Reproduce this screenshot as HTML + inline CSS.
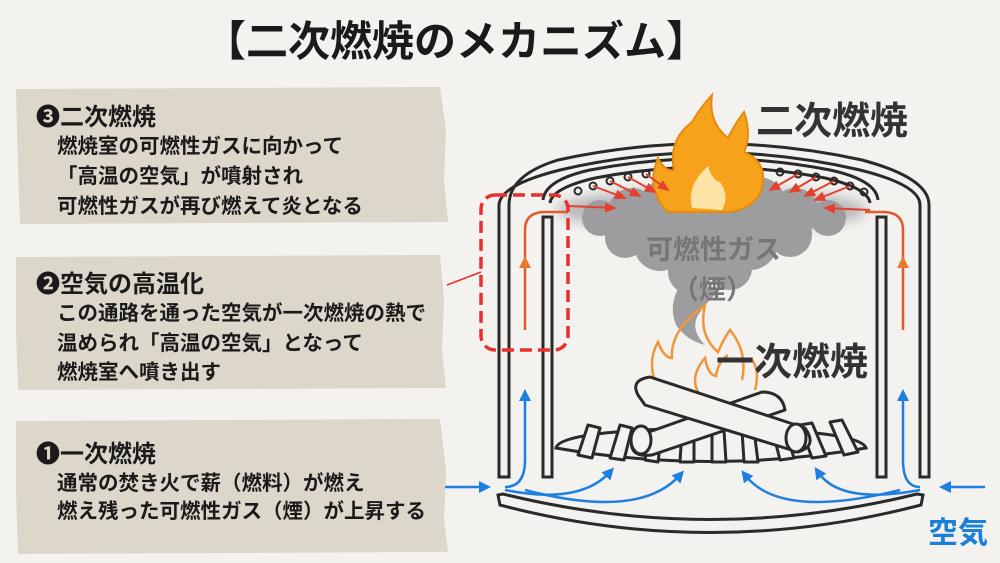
<!DOCTYPE html>
<html><head><meta charset="utf-8"><style>
html,body{margin:0;padding:0;}
body{width:1000px;height:563px;background:#f3f2ef;position:relative;overflow:hidden;font-family:"Liberation Sans","Noto Sans CJK JP",sans-serif;}
.t{position:absolute;white-space:nowrap;color:#1a1a1a;font-weight:bold;}
</style></head><body>
<svg width="1000" height="563" style="position:absolute;left:0;top:0" xmlns="http://www.w3.org/2000/svg">
<defs>
<linearGradient id="gL" x1="0" y1="1" x2="0" y2="0">
<stop offset="0" stop-color="#1e7fe0"/><stop offset="0.35" stop-color="#1e7fe0"/><stop offset="0.6" stop-color="#e87a2a"/><stop offset="1" stop-color="#e0502a"/></linearGradient>
<marker id="ar" markerWidth="12" markerHeight="10" refX="10" refY="5" orient="auto" markerUnits="userSpaceOnUse"><path d="M0,0 L12,5 L0,10 Z" fill="#e5402f"/></marker>
<marker id="ao" markerWidth="12" markerHeight="12" refX="6" refY="6" orient="auto" markerUnits="userSpaceOnUse"><path d="M0,0 L12,6 L0,12 Z" fill="#e87a2a"/></marker>
<marker id="abb" markerWidth="12" markerHeight="12" refX="6" refY="6" orient="auto" markerUnits="userSpaceOnUse"><path d="M0,0 L12,6 L0,12 Z" fill="#1e7fe0"/></marker>
<filter id="blur"><feGaussianBlur stdDeviation="6"/></filter>
</defs>
<path d="M16,89 L440,87 L446,130 L444,180 L448,222 L20,224 L18,170 Z" fill="#dcd6cb"/>
<path d="M16,257 L440,255 L444,300 L442,350 L446,388 L18,390 L16,330 Z" fill="#dcd6cb"/>
<path d="M16,421 L440,419 L446,470 L444,520 L448,552 L18,554 L16,490 Z" fill="#dcd6cb"/>
<ellipse cx="712" cy="210" rx="155" ry="22" fill="#b8b8ba" filter="url(#blur)"/>
<g fill="#9d9d9f">
<circle cx="600" cy="218" r="18"/><circle cx="632" cy="212" r="24"/><circle cx="670" cy="205" r="28"/><circle cx="715" cy="200" r="28"/><circle cx="758" cy="205" r="28"/><circle cx="795" cy="212" r="24"/><circle cx="828" cy="218" r="18"/>
<circle cx="625" cy="238" r="20"/><circle cx="660" cy="245" r="26"/><circle cx="705" cy="242" r="30"/><circle cx="750" cy="242" r="28"/><circle cx="790" cy="235" r="22"/>
<circle cx="690" cy="272" r="22"/><circle cx="730" cy="268" r="22"/>
<path d="M680,285 Q668,305 676,325 Q686,340 705,345 Q690,330 698,315 Q708,300 722,288 Z"/>
</g>
<g fill="none" stroke="#2a2a2a" stroke-width="3">
<path d="M499,477 L499,205 Q500,185 560,170 Q710,135 860,170 Q920,185 920,205 L920,477 L929,477 L929,205 Q929,178 862,160 Q710,127 558,160 Q509,175 509,205 L509,477 Z"/>
<path d="M543,200 Q545,180 590,170 Q710,147 830,170 Q876,180 878,200"/>
<path d="M550,203 Q552,188 595,178 Q710,156 825,178 Q868,188 870,203"/>
<rect x="543" y="217" width="9" height="260"/>
<rect x="877" y="217" width="9" height="260"/>
<path d="M500,505 Q710,560 921,505 L923,495 L917,494 Q710,545 503,494 L498,495 Z"/>
<path d="M556,448 Q560,430 710,428 Q860,430 866,448 Q710,475 556,448 Z" fill="#f3f2ef"/>
</g>
<g fill="none" stroke="#2a2a2a" stroke-width="2">
<circle cx="578" cy="191" r="3.5"/><circle cx="593" cy="186" r="3.5"/><circle cx="610" cy="181" r="3.5"/><circle cx="628" cy="177" r="3.5"/><circle cx="646" cy="174" r="3.5"/><circle cx="664" cy="172" r="3.5"/>
<circle cx="780" cy="172" r="3.5"/><circle cx="798" cy="174" r="3.5"/><circle cx="816" cy="177" r="3.5"/><circle cx="834" cy="181" r="3.5"/><circle cx="850" cy="186" r="3.5"/><circle cx="864" cy="192" r="3.5"/>
</g>
<g fill="none" stroke="#f0963a" stroke-width="2.5">
<path d="M660,392 Q645,365 658,342 Q664,358 672,358 Q670,330 705,305 Q698,335 718,352 Q724,338 730,330 Q748,352 742,380"/>
<path d="M700,395 Q688,378 705,358 Q708,375 716,376 Q718,362 728,355"/>
<path d="M755,390 Q760,370 752,360"/>
</g>
<g fill="#f3f2ef" stroke="#2a2a2a" stroke-width="3" stroke-linejoin="round">
<path d="M578,455 L588,425 L600,428 L592,458 Z"/><path d="M610,458 L620,425 L632,428 L624,460 Z"/>
<path d="M645,460 L650,430 L662,432 L658,462 Z"/><path d="M680,462 L682,430 L694,430 L694,462 Z"/>
<path d="M712,462 L712,430 L724,430 L726,462 Z"/><path d="M744,462 L742,430 L754,430 L758,462 Z"/>
<path d="M780,460 L772,428 L784,426 L794,458 Z"/><path d="M812,458 L800,425 L812,423 L826,456 Z"/>
<path d="M844,455 L830,422 L842,420 L858,452 Z"/>
<path d="M632,438 L762,392 Q782,392 785,410 L652,455 Q628,458 632,438 Z"/>
<path d="M638,395 Q630,380 650,377 L805,428 Q818,446 798,452 L645,405 Z"/>
<ellipse cx="641" cy="440" rx="10" ry="14"/><ellipse cx="796" cy="438" rx="10" ry="14"/>
</g>
<path d="M668,212 Q645,190 658,158 Q665,172 674,170 Q668,140 692,122 Q700,108 712,95 Q708,122 728,138 Q736,122 744,112 Q752,135 744,152 Q768,162 762,188 Q756,208 730,212 Z" fill="#f7a21b" stroke="#e58a10" stroke-width="2"/>
<path d="M692,208 Q686,186 708,166 Q712,180 720,182 Q730,196 722,210 Z" fill="#fde4a6"/>
<g stroke="#e5402f" stroke-width="2" fill="none" marker-end="url(#ar)">
<path d="M593,186 L625,198"/><path d="M628,177 L655,192"/><path d="M646,174 L668,190"/><path d="M610,181 L640,196"/>
<path d="M798,174 L770,190"/><path d="M816,177 L790,192"/><path d="M834,181 L805,196"/><path d="M850,186 L815,200"/>
<path d="M568,206 L615,208"/><path d="M870,210 L825,208"/>
</g>
<path d="M525,330 L525,230 Q525,212 545,212 L568,212" stroke="#e05a2a" stroke-width="2.5" fill="none"/>
<path d="M903,330 L903,230 Q903,212 883,212 L865,212" stroke="#e05a2a" stroke-width="2.5" fill="none"/>
<line x1="525" y1="370" x2="525" y2="262" stroke="url(#gL)" stroke-width="2.5" marker-end="url(#ao)"/>
<line x1="903" y1="370" x2="903" y2="262" stroke="url(#gL)" stroke-width="2.5" marker-end="url(#ao)"/>
<g stroke="#1e7fe0" stroke-width="2.5" fill="none">
<path d="M445,487 L485,487" marker-end="url(#abb)"/>
<path d="M985,487 L945,487" marker-end="url(#abb)"/>
<path d="M505,487 Q525,487 525,460 L525,395" marker-end="url(#abb)"/>
<path d="M920,487 Q903,487 903,460 L903,395" marker-end="url(#abb)"/>
<path d="M505,490 Q580,505 610,472" marker-end="url(#abb)"/>
<path d="M525,490 Q640,520 680,475" marker-end="url(#abb)"/>
<path d="M920,490 Q840,505 818,472" marker-end="url(#abb)"/>
<path d="M900,490 Q780,520 745,475" marker-end="url(#abb)"/>
</g>
<rect x="481" y="195" width="87" height="155" rx="14" fill="none" stroke="#e8302f" stroke-width="3.5" stroke-dasharray="12,6"/>
<line x1="447" y1="285" x2="481" y2="272" stroke="#e8302f" stroke-width="1.5"/>
</svg>
<div class="t" style="left:204px;top:8px;font-size:42px;">【二次燃焼のメカニズム】</div>
<div class="t" style="left:756px;top:90px;font-size:38px;color:#333;">二次燃焼</div>
<div class="t" style="left:716px;top:331px;font-size:38px;color:#333;">一次燃焼</div>
<div class="t" style="left:646px;top:228px;font-size:27px;color:#767678;">可燃性ガス</div>
<div class="t" style="left:672px;top:268px;font-size:27px;color:#767678;">（煙）</div>
<div class="t" style="left:928px;top:508px;font-size:30px;color:#1a7fd9;">空気</div>
<div class="t" style="left:36px;top:97px;font-size:24px;">❸二次燃焼</div>
<div class="t" style="left:57px;top:132px;font-size:20.5px;line-height:30px;">燃焼室の可燃性ガスに向かって<br>「高温の空気」が噴射され<br>可燃性ガスが再び燃えて炎となる</div>
<div class="t" style="left:36px;top:264px;font-size:24px;">❷空気の高温化</div>
<div class="t" style="left:57px;top:299px;font-size:20.5px;line-height:29.5px;">この通路を通った空気が一次燃焼の熱で<br>温められ「高温の空気」となって<br>燃焼室へ噴き出す</div>
<div class="t" style="left:36px;top:434px;font-size:24px;">❶一次燃焼</div>
<div class="t" style="left:57px;top:470px;font-size:20.5px;line-height:28px;">通常の焚き火で薪（燃料）が燃え<br>燃え残った可燃性ガス（煙）が上昇する</div>
</body></html>
